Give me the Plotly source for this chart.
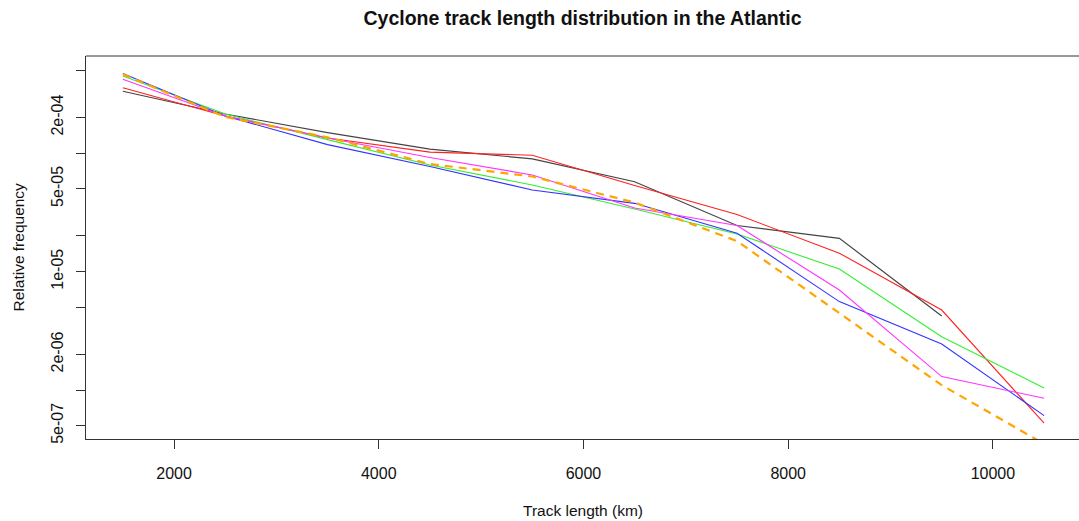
import plotly.graph_objects as go

track_length = [1500, 2500, 3500, 4500, 5500, 6500, 7500, 8500, 9500, 10500]

black_series = [3.33e-4, 2.14e-4, 1.49e-4, 1.08e-4, 8.95e-5, 5.74e-5, 2.45e-5, 1.91e-5, 4.22e-6, None]
red_series = [3.56e-4, 2.06e-4, 1.34e-4, 1.02e-4, 9.59e-5, 5.33e-5, 3.03e-5, 1.43e-5, 4.74e-6, 5.25e-7]
green_series = [4.48e-4, 2.14e-4, 1.30e-4, 7.94e-5, 5.38e-5, 3.38e-5, 2.08e-5, 1.05e-5, 2.82e-6, 1.04e-6]
blue_series = [4.70e-4, 2.06e-4, 1.18e-4, 7.71e-5, 4.89e-5, 3.77e-5, 2.11e-5, 5.58e-6, 2.45e-6, 6.08e-7]
magenta_series = [4.20e-4, 2.06e-4, 1.34e-4, 9.19e-5, 6.54e-5, 3.44e-5, 2.45e-5, 7.00e-6, 1.30e-6, 8.53e-7]
orange_series = [4.63e-4, 2.02e-4, 1.36e-4, 8.10e-5, 6.35e-5, 3.83e-5, 1.81e-5, 4.45e-6, 1.10e-6, 3.51e-7]

x_tickvals = [2000, 4000, 6000, 8000, 10000]
x_ticktext = ["2000", "4000", "6000", "8000", "10000"]
y_tickvals = [5e-4, 2e-4, 1e-4, 5e-5, 2e-5, 1e-5, 5e-6, 2e-6, 1e-6, 5e-7]
y_ticktext = ["", "2e-04", "", "5e-05", "", "1e-05", "", "2e-06", "", "5e-07"]

FONT = "Liberation Sans, Arial, sans-serif"

fig = go.Figure()
series = [
    (black_series, "#444444", 1.2, "solid"),
    (red_series, "#ff2020", 1.1, "solid"),
    (green_series, "#33ee33", 1.1, "solid"),
    (blue_series, "#3333ff", 1.1, "solid"),
    (magenta_series, "#ff33ff", 1.1, "solid"),
    (orange_series, "#ffa500", 2.2, "8px,6px"),
]
for vals, col, w, dash in series:
    fig.add_trace(go.Scatter(x=track_length, y=vals, mode="lines",
                             line=dict(color=col, width=w, dash=dash),
                             showlegend=False, connectgaps=False))

fig.update_layout(
    width=1079, height=521,
    margin=dict(l=86, r=0, t=56, b=82, autoexpand=False),
    paper_bgcolor="white", plot_bgcolor="white",
    font=dict(family=FONT, color="#111111", size=15),
    title=dict(text="<b>Cyclone track length distribution in the Atlantic</b>",
               x=0.5, xref="paper", xanchor="center",
               y=1 - 18 / 521, yref="container", yanchor="middle",
               font=dict(size=19.5, family=FONT, color="#111111")),
    xaxis=dict(range=[1140, 10841], tickvals=x_tickvals, ticktext=x_ticktext,
               ticks="outside", ticklen=9,
               tickcolor="#333333", showline=True, linecolor="#333333", linewidth=1,
               showgrid=False, zeroline=False, tickfont=dict(size=16),
               ticklabelstandoff=11),
    yaxis=dict(type="log", range=[-6.413, -3.180], tickvals=y_tickvals,
               ticktext=y_ticktext, tickangle=-90, ticks="outside", ticklen=9,
               tickcolor="#333333", showline=True, linecolor="#333333", linewidth=1,
               showgrid=False, zeroline=False, tickfont=dict(size=16),
               ticklabelstandoff=7),
    shapes=[dict(type="line", xref="paper", yref="paper", x0=0, x1=1, y0=1, y1=1,
                 line=dict(color="#333333", width=1))],
    annotations=[
        dict(text="Relative frequency", xref="paper", yref="paper",
             x=(18 - 86) / 993, y=0.5, xanchor="center", yanchor="middle",
             textangle=-90, showarrow=False, font=dict(size=15.5)),
        dict(text="Track length (km)", xref="paper", yref="paper",
             x=0.5, y=(439 - 510) / 383, xanchor="center", yanchor="middle",
             showarrow=False, font=dict(size=15.5)),
    ],
)

fig.write_html("out.html")
